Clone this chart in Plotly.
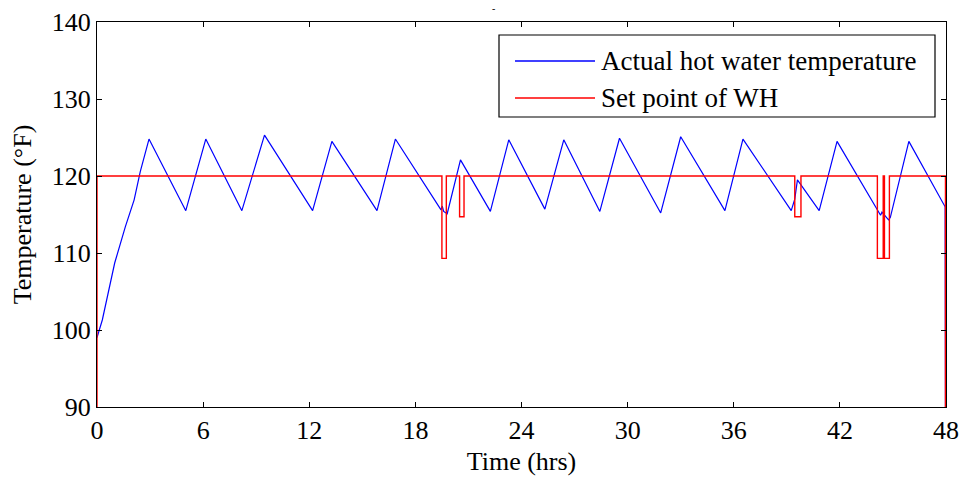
import plotly.graph_objects as go

# ---- data ----
hours_actual = [0, 0.3, 1.0, 1.6, 2.1, 2.45, 2.94, 5.02, 6.15, 8.19, 9.47, 12.19,
                13.28, 15.83, 16.87, 19.45, 19.52, 19.6, 19.8, 20.55, 22.24, 23.28,
                25.32, 26.39, 28.43, 29.54, 31.87, 33.0, 35.5, 36.52, 39.25, 39.45,
                39.6, 40.83, 41.84, 44.3, 44.38, 44.75, 44.85, 45.9, 47.95, 47.97]
temp_actual = [99, 101.3, 108.7, 113.4, 116.9, 120.6, 124.8, 115.5, 124.8, 115.5, 125.3, 115.5,
               124.5, 115.5, 124.8, 115.6, 116.1, 115.4, 115.1, 122.1, 115.4, 124.7,
               115.7, 124.7, 115.4, 124.9, 115.2, 125.1, 115.5, 124.8, 115.5, 117.0,
               119.5, 115.5, 124.5, 114.9, 115.3, 114.3, 114.6, 124.5, 116.0, 88]

hours_setpoint = [0, 0, 19.5, 19.5, 19.75, 19.75, 20.5, 20.5, 20.75, 20.75,
                  39.45, 39.45, 39.8, 39.8, 44.12, 44.12, 44.45, 44.45, 44.52, 44.52,
                  44.8, 44.8, 47.97, 47.97]
temp_setpoint = [88, 120, 120, 109.3, 109.3, 120, 120, 114.7, 114.7, 120,
                 120, 114.7, 114.7, 120, 120, 109.3, 109.3, 120, 120, 109.3,
                 109.3, 120, 120, 88]

x_ticks = [0, 6, 12, 18, 24, 30, 36, 42, 48]
y_ticks = [90, 100, 110, 120, 130, 140]

name_actual = "Actual hot water temperature"
name_setpoint = "Set point of WH"

FONT = "Liberation Serif, Times New Roman, DejaVu Serif, serif"
FS = 26

fig = go.Figure()
fig.add_trace(go.Scatter(x=hours_actual, y=temp_actual, mode="lines", name=name_actual,
                         line=dict(color="#0000ff", width=1.2), showlegend=False))
fig.add_trace(go.Scatter(x=hours_setpoint, y=temp_setpoint, mode="lines", name=name_setpoint,
                         line=dict(color="#ff0000", width=1.4), showlegend=False))

axis_common = dict(showline=True, linecolor="black", linewidth=1.3, mirror="allticks",
                   ticks="inside", ticklen=5, tickcolor="black", showgrid=False,
                   zeroline=False, automargin=False,
                   tickfont=dict(family=FONT, size=FS, color="black"))

fig.update_xaxes(range=[0, 48], tickvals=x_ticks, ticktext=[str(v) for v in x_ticks],
                 title=dict(text="Time (hrs)", font=dict(family=FONT, size=FS, color="black"),
                            standoff=7),
                 **axis_common)
fig.update_yaxes(range=[90, 140], tickvals=y_ticks, ticktext=[str(v) for v in y_ticks],
                 title=dict(text="Temperature (°F)", font=dict(family=FONT, size=FS, color="black"),
                            standoff=12),
                 **axis_common)

# manual legend (MATLAB style)
L, R, T, B = 499, 935, 35, 117
def px(xp):
    return (xp - 97) / 849.0
def py(yp):
    return (407 - yp) / 385.0

shapes = [dict(type="rect", xref="paper", yref="paper", x0=px(L), x1=px(R), y0=py(B), y1=py(T),
               line=dict(color="black", width=1.2), fillcolor="white", layer="above")]
rows = [(61, "#0000ff", name_actual), (98, "#ff0000", name_setpoint)]
annotations = []
for yrow, col, label in rows:
    shapes.append(dict(type="line", xref="paper", yref="paper", x0=px(515), x1=px(595),
                       y0=py(yrow), y1=py(yrow), line=dict(color=col, width=1.3), layer="above"))
    annotations.append(dict(xref="paper", yref="paper", x=px(599), y=py(yrow), text=label,
                            showarrow=False, xanchor="left", yanchor="middle",
                            font=dict(family=FONT, size=27, color="black")))
annotations.append(dict(xref="paper", yref="paper", x=px(493), y=py(1), text="-",
                        showarrow=False, xanchor="center", yanchor="top",
                        font=dict(family=FONT, size=10, color="black")))

fig.update_layout(width=963, height=481, margin=dict(l=97, r=17, t=22, b=74),
                  paper_bgcolor="white", plot_bgcolor="white",
                  shapes=shapes, annotations=annotations)

fig.write_html("out.html")
